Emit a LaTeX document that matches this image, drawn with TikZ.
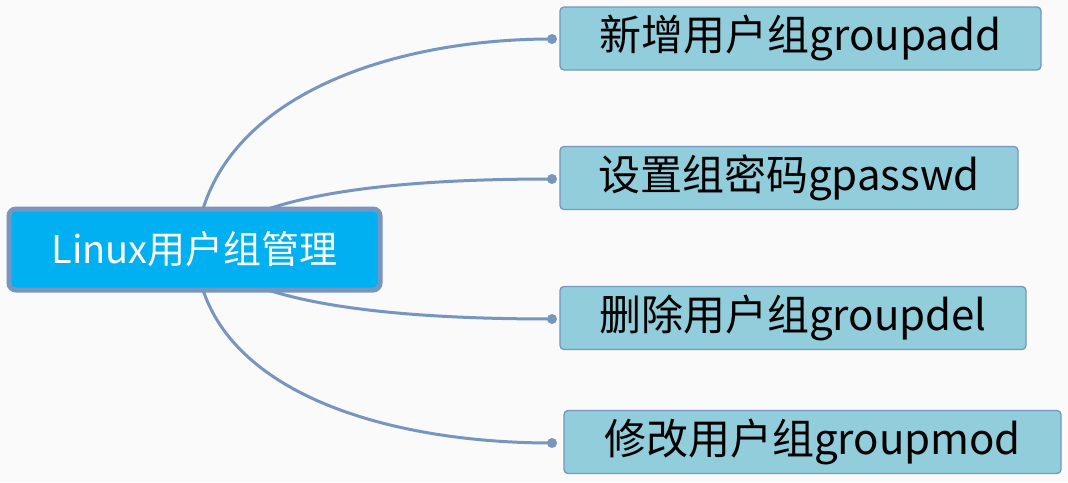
\documentclass[tikz,border=0pt]{standalone}
\usepackage{fontspec}
\setmainfont{Noto Sans CJK SC}
\definecolor{bgc}{RGB}{250,250,250}
\definecolor{rootfill}{RGB}{0,176,240}
\definecolor{edgec}{RGB}{118,150,192}
\definecolor{leaffill}{RGB}{146,205,220}
\begin{document}
\begin{tikzpicture}[x=1pt,y=-1pt,
  rootbox/.style={draw=edgec,line width=5pt,fill=rootfill,rounded corners=7pt,text=white,minimum width=371pt,minimum height=81pt,inner sep=0pt,font=\fontsize{38}{44}\selectfont},
  leafbox/.style={draw=edgec,line width=1.3pt,fill=leaffill,rounded corners=4pt,text=black,minimum height=63pt,inner sep=0pt,font=\fontsize{42}{48}\selectfont},
  conn/.style={draw=edgec,line width=3pt},
  dot/.style={circle,fill=edgec,inner sep=0pt,minimum size=10pt}]
\fill[bgc] (0,0) rectangle (1068,482);
\useasboundingbox (0,0) rectangle (1068,482);
\node[rootbox] (root) at (194.5,249.5) {Linux用户组管理};
\node[leafbox,minimum width=481pt] (l1) at (800.5,38.5) {新增用户组groupadd};
\node[leafbox,minimum width=458pt] (l2) at (789,178) {设置组密码gpasswd};
\node[leafbox,minimum width=466pt] (l3) at (793,318) {删除用户组groupdel};
\node[leafbox,minimum width=497pt] (l4) at (812.5,442) {修改用户组groupmod};
\coordinate (s1) at (203,209);
\coordinate (s2) at (268,209);
\coordinate (s3) at (268,290);
\coordinate (s4) at (203,290);
\node[dot] (d1) at (552,39) {};
\node[dot] (d2) at (552,179) {};
\node[dot] (d3) at (552,319) {};
\node[dot] (d4) at (552,443) {};
\draw[conn] (s1) .. controls (240,90) and (400,39) .. (d1.center);
\draw[conn] (s2) .. controls (340,185) and (450,179) .. (d2.center);
\draw[conn] (s3) .. controls (340,313) and (450,319) .. (d3.center);
\draw[conn] (s4) .. controls (240,400) and (400,443) .. (d4.center);
\end{tikzpicture}
\end{document}
